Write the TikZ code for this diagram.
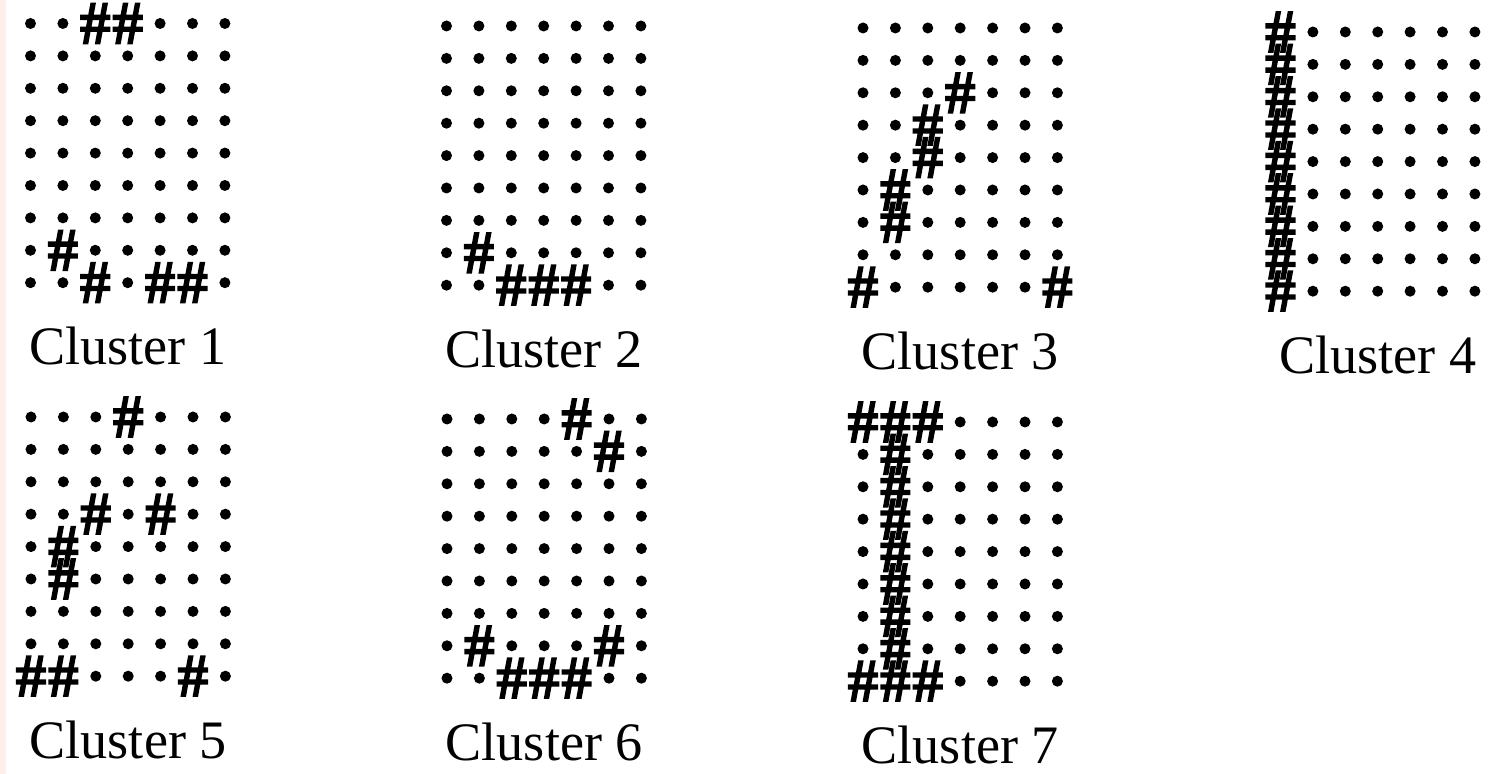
\documentclass[tikz,border=0pt]{standalone}
\usepackage{fontspec}
\setmainfont{Liberation Serif}
\newfontfamily\hashfont[FakeBold=4]{Liberation Serif}
\definecolor{edge}{HTML}{FDF0EA}
\tikzset{
  hashmark/.style={inner sep=0pt, font=\fontsize{17}{17}\hashfont},
  clusterlabel/.style={anchor=base, inner sep=0pt, font=\fontsize{15.4}{18}\selectfont},
}
\begin{document}
\begin{tikzpicture}[x=0.01cm, y=-0.01cm]
  \useasboundingbox (0,0) rectangle (1497,774);
  \fill[edge] (0,0) rectangle (6,774);

  % number / x of column 1 / y of row 1 / cells (column/row) holding a #
  \foreach \k/\ox/\oy/\cells in {
      1/30.5/23.5/{3/1,4/1,2/8,3/9,5/9,6/9},
      2/446.5/26/{2/8,3/9,4/9,5/9},
      3/863/28/{4/3,3/4,3/5,2/6,2/7,1/9,7/9},
      4/1280.5/32/{1/1,1/2,1/3,1/4,1/5,1/6,1/7,1/8,1/9},
      5/31/417/{4/1,3/4,5/4,2/5,2/6,1/9,2/9,6/9},
      6/447/419/{5/1,6/2,2/8,6/8,3/9,4/9,5/9},
      7/863/422/{1/1,2/1,3/1,2/2,2/3,2/4,2/5,2/6,2/7,2/8,1/9,2/9,3/9}} {
    \foreach \c in {1,...,7}
      \foreach \r in {1,...,9}
        \fill (\ox+32.4*\c-32.4, \oy+32.4*\r-32.4) circle (0.055cm);
    \foreach \c/\r in \cells
      \fill[white] (\ox+32.4*\c-32.4, \oy+32.4*\r-32.4) circle (0.08cm);
    \foreach \c/\r in \cells
      \node[hashmark] (h\k-\c-\r) at (\ox+32.4*\c-32.4, \oy+32.4*\r-32.4) {\#};
    \node[clusterlabel] (label\k) at (\ox+97.2, \oy+341.2) {Cluster \k};
  }
\end{tikzpicture}
\end{document}
